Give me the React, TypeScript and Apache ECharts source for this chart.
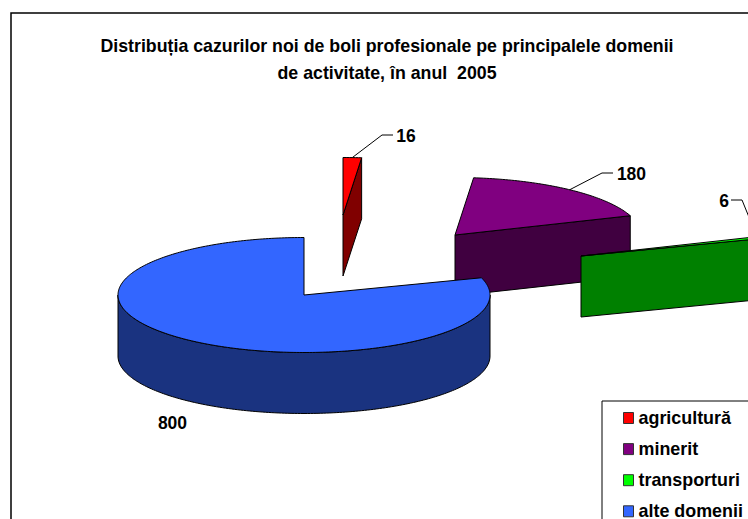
import React, { useEffect, useRef } from "react";
import * as echarts from "echarts";

const categories = ["agricultură", "minerit", "transporturi", "alte domenii"];
const caseCounts = [16, 180, 6, 800];
const titleText = "Distribuția cazurilor noi de boli profesionale pe principalele domenii\nde activitate, în anul  2005";
const topColors = ["#ff0000", "#800080", "#00ff00", "#3366ff"];
const sideColors = ["#800000", "#400040", "#008000", "#1a3380"];

// Layout of the exploded 3D pie
const RX = 186;
const RY = 57.5;
const DEPTH = 61;
const centers = [
  [343, 215],
  [455, 235],
  [581, 256],
  [304, 295],
];
// Leader elbow and label anchor for each slice (null = no leader)
const leaders: (number[][] | null)[] = [
  [[382, 135], [393, 135]],
  [[602, 173], [613, 173]],
  [[742, 200], [731, 200]],
  null,
];
const labelPos = [
  [406, 136],
  [631.5, 174],
  [724, 201],
  [172.5, 423],
];

const total = caseCounts.reduce((a, b) => a + b, 0);
const startAngles: number[] = [];
caseCounts.reduce((acc, v, i) => {
  startAngles[i] = (acc / total) * 360;
  return acc + v;
}, 0);

const pt = (c: number[], deg: number, dy = 0) => {
  const r = (deg * Math.PI) / 180;
  return [c[0] + RX * Math.sin(r), c[1] - RY * Math.cos(r) + dy];
};
const arc = (c: number[], a: number, b: number, dy = 0) => {
  const pts: number[][] = [];
  const n = Math.max(2, Math.ceil(Math.abs(b - a)));
  for (let i = 0; i <= n; i++) pts.push(pt(c, a + ((b - a) * i) / n, dy));
  return pts;
};

const lineStyle = { stroke: "#000", lineWidth: 1 };
const textFont = { fontFamily: "Liberation Sans, Arial, sans-serif", fontWeight: "bold" as const, fontSize: 17.5 };

const makeRender = (i: number) => (_params: any, api: any) => {
  const value = api.value(0);
  const c = centers[i];
  const a0 = startAngles[i];
  const a1 = a0 + (value / total) * 360;
  const children: any[] = [];
  // outer wall, visible on the front half
  const wa = Math.max(a0, 90);
  const wb = Math.min(a1, 270);
  if (wb > wa) {
    children.push({
      type: "polygon",
      shape: { points: [...arc(c, wa, wb), ...arc(c, wb, wa, DEPTH)] },
      style: { fill: sideColors[i], ...lineStyle },
    });
  }
  // cut face at the end angle
  if (a1 < 180) {
    const e = pt(c, a1);
    children.push({
      type: "polygon",
      shape: { points: [c, e, [e[0], e[1] + DEPTH], [c[0], c[1] + DEPTH]] },
      style: { fill: sideColors[i], ...lineStyle },
    });
  }
  // top face
  children.push({
    type: "polygon",
    shape: { points: [c, ...arc(c, a0, a1)] },
    style: { fill: topColors[i], ...lineStyle },
  });
  // leader line
  const lead = leaders[i];
  if (lead) {
    children.push({
      type: "polyline",
      shape: { points: [pt(c, (a0 + a1) / 2), ...lead] },
      style: { fill: "none", stroke: "#000", lineWidth: 1 },
    });
  }
  // value label
  children.push({
    type: "text",
    style: {
      x: labelPos[i][0],
      y: labelPos[i][1],
      text: String(value),
      align: "center",
      verticalAlign: "middle",
      fill: "#000",
      ...textFont,
    },
  });
  return { type: "group", children };
};

export default function App() {
  const ref = useRef<HTMLDivElement>(null);
  useEffect(() => {
    if (!ref.current) return;
    const chart = echarts.init(ref.current, undefined, { renderer: "svg" });
    chart.setOption({
      animation: false,
      backgroundColor: "#fff",
      title: {
        text: titleText,
        left: 382,
        top: 27,
        textAlign: "center",
        textStyle: { ...textFont, fontSize: 17.75, lineHeight: 27.5, color: "#000" },
      },
      legend: {
        data: categories,
        orient: "vertical",
        left: 602,
        top: 401,
        padding: [8, 30, 9, 21],
        itemWidth: 10,
        itemHeight: 11,
        itemGap: 13.1,
        icon: "rect",
        borderColor: "#000",
        borderWidth: 1,
        backgroundColor: "#fff",
        selectedMode: false,
        itemStyle: { borderColor: "#333", borderWidth: 1 },
        textStyle: { ...textFont, fontSize: 17.9, color: "#000" },
      },
      graphic: [
        {
          type: "rect",
          z: -10,
          shape: { x: 11, y: 13, width: 900, height: 700 },
          style: { fill: "#fff", stroke: "#000", lineWidth: 1.5 },
        },
      ],
      series: categories.map((name, i) => ({
        type: "custom",
        name,
        coordinateSystem: "none",
        silent: true,
        itemStyle: { color: topColors[i] },
        renderItem: makeRender(i),
        data: [[caseCounts[i]]],
        clip: false,
      })),
    });
    return () => chart.dispose();
  }, []);
  return (
    <div style={{ position: "absolute", left: 0, top: 0, width: 748, height: 519, overflow: "hidden" }}>
      <div ref={ref} style={{ width: 860, height: 620 }} />
    </div>
  );
}
